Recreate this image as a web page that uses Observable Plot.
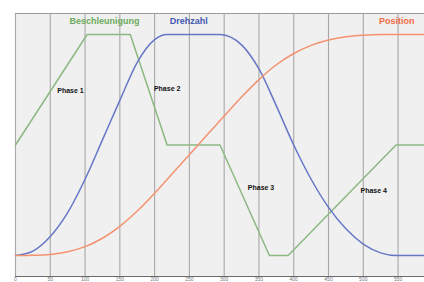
<!DOCTYPE html>
<html>
<head>
<meta charset="utf-8">
<script src="https://cdn.jsdelivr.net/npm/d3@7"></script>
<script src="https://cdn.jsdelivr.net/npm/@observablehq/plot@0.6"></script>
<style>
  html, body { margin: 0; padding: 0; background: #fff; }
  #chart svg { display: block; }
</style>
</head>
<body>
<div id="chart"></div>
<script>
// x ticks (time axis)
const xTicks = [0, 50, 100, 150, 200, 250, 300, 350, 400, 450, 500, 550];

// Beschleunigung (acceleration), 50 = zero level
const beschX = [0, 103, 165, 218, 294, 365, 392, 547, 588];
const beschY = [50, 100, 100, 50, 50, 0, 0, 50, 50];

// Drehzahl (speed)
const drehX = [0, 25, 50, 75, 100, 125, 150, 175, 200, 218, 294, 325, 350, 375, 400, 425, 450, 475, 500, 525, 547, 588];
const drehY = [0, 2, 8.6, 19.4, 34.5, 52.3, 70.2, 87.4, 97.7, 100, 100, 95.3, 84.4, 67.7, 50, 34.5, 21.8, 12.1, 5.2, 1.2, 0, 0];

// Position
const posX = [0, 25, 50, 75, 100, 125, 150, 175, 200, 225, 250, 275, 300, 325, 350, 375, 400, 425, 450, 475, 500, 525, 550, 588];
const posY = [0, 0.1, 0.5, 1.7, 4.0, 7.8, 13.2, 20.1, 28.2, 36.9, 45.6, 54.4, 63.1, 71.7, 79.6, 86.3, 91.4, 95.1, 97.5, 99.0, 99.7, 100, 100, 100];

// labels
const seriesNames = ["Beschleunigung", "Drehzahl", "Position"];
const seriesColors = ["#6cab5c", "#4257b2", "#f06a44"];
const lineColors = ["#8cb883", "#6677c6", "#f4926f"];
const seriesLabelX = [128, 249, 548];
const phaseNames = ["Phase 1", "Phase 2", "Phase 3", "Phase 4"];
const phaseX = [79, 218, 353, 515];
const phaseY = [74.5, 75.5, 30.5, 29.5];

const toRows = (xs, ys) => xs.map((x, i) => ({x, y: ys[i]}));
const besch = toRows(beschX, beschY);
const dreh = toRows(drehX, drehY);
const pos = toRows(posX, posY);
const titles = seriesNames.map((n, i) => ({n, x: seriesLabelX[i], c: seriesColors[i]}));
const phases = phaseNames.map((n, i) => ({n, x: phaseX[i], y: phaseY[i]}));

const yMin = -9.5, yMax = 109.5;

const chart = Plot.plot({
  width: 424,
  height: 282,
  marginLeft: 15,
  marginRight: 0,
  marginTop: 13,
  marginBottom: 6,
  style: {background: "#fff", fontFamily: "Liberation Sans, Arial, sans-serif"},
  x: {domain: [0, 588], axis: null, label: null},
  y: {domain: [yMin, yMax], axis: null, label: null},
  marks: [
    Plot.frame({fill: "#f0f0f0", stroke: "none"}),
    Plot.ruleX(xTicks, {stroke: "#a8a8a8", strokeWidth: 1.1}),
    Plot.ruleY([yMax], {stroke: "#9a9a9a", strokeWidth: 1.2}),
    Plot.ruleY([yMin], {stroke: "#6a6a6a", strokeWidth: 1.2}),
    Plot.axisX({ticks: xTicks, label: null, tickSize: 1, tickPadding: 0, fontSize: 5, stroke: "#666", fill: "#777"}),
    Plot.line(besch, {x: "x", y: "y", stroke: lineColors[0], strokeWidth: 1.5}),
    Plot.line(dreh, {x: "x", y: "y", stroke: lineColors[1], strokeWidth: 1.5, curve: "monotone-x"}),
    Plot.line(pos, {x: "x", y: "y", stroke: lineColors[2], strokeWidth: 1.5, curve: "monotone-x"}),
    Plot.text(titles, {x: "x", y: 106, text: "n", fill: "c", fontSize: 9, fontWeight: "bold"}),
    Plot.text(phases, {x: "x", y: "y", text: "n", fill: "#111", fontSize: 7, fontWeight: "bold"})
  ]
});
document.getElementById("chart").appendChild(chart);
</script>
</body>
</html>
